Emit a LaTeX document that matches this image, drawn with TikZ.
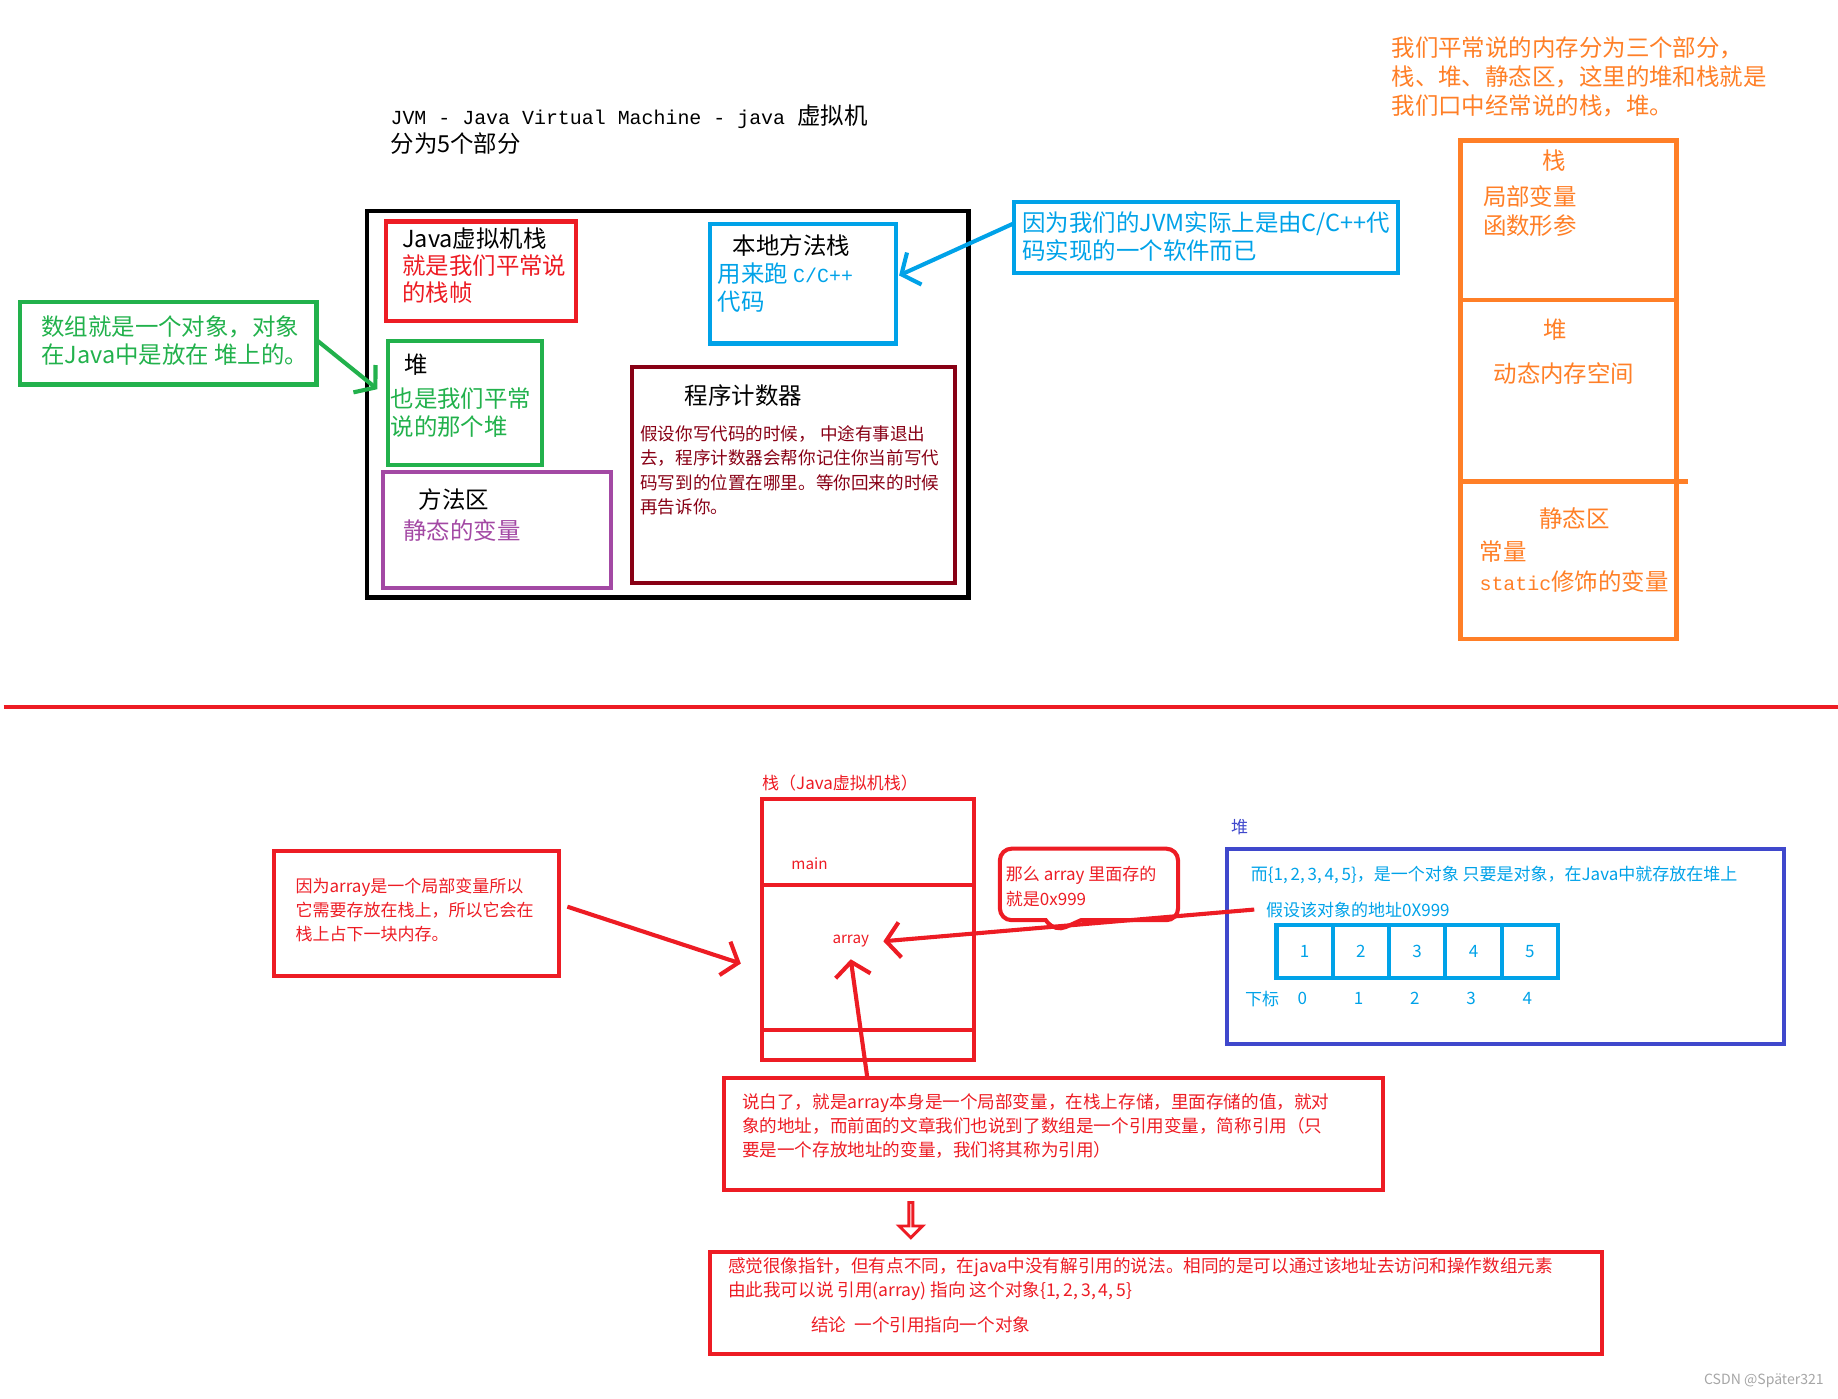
\documentclass[tikz,border=0pt]{standalone}
\usepackage{fontspec}
\setmainfont{Noto Sans CJK SC}
\newfontfamily\latmono{Liberation Mono}
\usetikzlibrary{arrows.meta,shapes.arrows,shapes.callouts}

\definecolor{jred}{HTML}{ED1C24}
\definecolor{jgreen}{HTML}{22B14C}
\definecolor{jblue}{HTML}{00A2E8}
\definecolor{jpurple}{HTML}{A349A4}
\definecolor{jdark}{HTML}{880015}
\definecolor{jorange}{HTML}{FF7F27}
\definecolor{jindigo}{HTML}{3F48CC}

\begin{document}
\begin{tikzpicture}[x=1pt, y=-1pt,
  frame/.style={draw, line width=3.5pt, anchor=north west, inner sep=0pt, outer sep=0pt},
  txt/.style={inner sep=0pt, anchor=north west, align=left},
  big/.style={font=\fontsize{20pt}{24pt}\selectfont},
  small/.style={font=\fontsize{14.5pt}{20.5pt}\selectfont},
  barb/.style={line width=3.5pt, -{Straight Barb[length=12pt, width=30pt]}}]
  \useasboundingbox (0,0) rectangle (1568,1193);

  % JVM 5 parts
  \node[txt, big] (title) at (333,89) {{\latmono\fontsize{17pt}{24pt}\selectfont JVM - Java Virtual Machine - java }虚拟机\\分为5个部分};
  \node[frame, line width=4pt, minimum width=513pt, minimum height=330pt] (jvm) at (313,180) {};

  \node[frame, draw=jred, minimum width=162pt, minimum height=85pt] (vmstack) at (329,189) {};
  \node[txt, big, font=\fontsize{20pt}{23pt}\selectfont, text=jred] (tvmstack) at (343,194) {\textcolor{black}{Java虚拟机栈}\\就是我们平常说\\的栈帧};

  \node[frame, draw=jblue, minimum width=158pt, minimum height=102pt] (native) at (606,191) {};
  \node[txt, big, text=jblue] (tnative) at (612,200) {\hspace*{13pt}\textcolor{black}{本地方法栈}\\用来跑 {\latmono\fontsize{17pt}{24pt}\selectfont C/C++}\\代码};

  \node[frame, draw=jgreen, minimum width=131pt, minimum height=106pt] (heap) at (331,291) {};
  \node[txt, big, text=jgreen] (theap) at (333,302) {\hspace*{12pt}\textcolor{black}{堆}\\[5pt]也是我们平常\\说的那个堆};

  \node[frame, draw=jpurple, minimum width=194pt, minimum height=99pt] (method) at (327,403) {};
  \node[txt, big, font=\fontsize{20pt}{26pt}\selectfont, text=jpurple] (tmethod) at (344,417) {\hspace*{13pt}\textcolor{black}{方法区}\\静态的变量};

  \node[frame, draw=jdark, minimum width=276pt, minimum height=184pt] (pc) at (539,313) {};
  \node[txt, big] (tpc) at (584,328) {程序计数器};
  \node[txt, font=\fontsize{15pt}{20.7pt}\selectfont, text=jdark] (pcnote) at (546,363) {假设你写代码的时候， 中途有事退出\\去，程序计数器会帮你记住你当前写代\\码写到的位置在哪里。等你回来的时候\\再告诉你。};

  % notes outside
  \node[frame, draw=jgreen, minimum width=253pt, minimum height=70pt] (arrnote) at (17,258) {};
  \node[txt, big, text=jgreen] (tarrnote) at (35,269) {数组就是一个对象，对象\\在Java中是放在 堆上的。};
  \draw[barb, jgreen] ([yshift=3pt]arrnote.east) -- ([xshift=-9pt, yshift=12pt]heap.west);

  \node[frame, draw=jblue, minimum width=328pt, minimum height=61pt] (cnote) at (865,172) {};
  \node[txt, big, text=jblue] (tcnote) at (872,180) {因为我们的JVM实际上是由C/C++代\\码实现的一个软件而已};
  \draw[barb, jblue] ([yshift=12pt]cnote.west) -- ([xshift=3pt, yshift=7pt]native.east);

  % stack / heap / static
  \node[txt, big, font=\fontsize{20pt}{25pt}\selectfont, text=jorange] (memnote) at (1187,31) {我们平常说的内存分为三个部分，\\栈、堆、静态区，这里的堆和栈就是\\我们口中经常说的栈，堆。};
  \node[frame, draw=jorange, line width=4pt, minimum width=184pt, minimum height=136pt] (ostack) at (1246,120) {};
  \node[frame, draw=jorange, line width=4pt, minimum width=184pt, minimum height=155pt] (oheap) at (1246,256) {};
  \node[frame, draw=jorange, line width=4pt, minimum width=184pt, minimum height=134pt] (ostatic) at (1246,411) {};
  \draw[jorange, line width=4pt] (oheap.south east) -- ++(10,0);
  \node[txt, big, anchor=north, text=jorange] (tostack) at (1326,128) {栈};
  \node[txt, big, font=\fontsize{20pt}{25pt}\selectfont, text=jorange] (tostack2) at (1265,158) {局部变量\\函数形参};
  \node[txt, big, anchor=north, text=jorange] (toheap) at (1327,272) {堆};
  \node[txt, big, text=jorange] (toheap2) at (1274,309) {动态内存空间};
  \node[txt, big, text=jorange] (tostatic) at (1313,433) {静态区};
  \node[txt, big, font=\fontsize{20pt}{26pt}\selectfont, text=jorange] (tostatic2) at (1262,461) {常量\\{\latmono\fontsize{17pt}{26pt}\selectfont static}修饰的变量};

  \draw[jred, line width=3pt] (3,603) -- (1568,603);

  % array example
  \node[txt, small, text=jred] (tstack) at (650,661) {栈（Java虚拟机栈）};
  \node[frame, draw=jred, minimum width=181pt, minimum height=73pt] (smain) at (650,682) {};
  \node[frame, draw=jred, minimum width=181pt, minimum height=124pt] (sarr) at (650,755) {};
  \node[frame, draw=jred, minimum width=181pt, minimum height=25pt] (sbot) at (650,879) {};
  \node[txt, anchor=west, font=\fontsize{13pt}{15pt}\selectfont, text=jred] (tmain) at (675,737) {main};
  \node[txt, anchor=west, font=\fontsize{13pt}{15pt}\selectfont, text=jred] (tarray) at (710,803) {array};

  \node[frame, draw=jred, minimum width=243pt, minimum height=107pt] (localnote) at (234,726) {};
  \node[txt, small, text=jred] (tlocalnote) at (252,749) {因为array是一个局部变量所以\\它需要存放在栈上，所以它会在\\栈上占下一块内存。};
  \draw[barb, jred] ([xshift=7pt, yshift=6pt]localnote.east) -- ([xshift=-18pt, yshift=-5pt]sarr.west);

  \node[draw=jred, line width=3.5pt, rectangle callout, rounded corners=10pt, anchor=north west, inner sep=0pt, outer sep=0pt,
    minimum width=152pt, minimum height=61pt, callout absolute pointer={(900,795)}, callout pointer width=30pt] (refnote) at (853,724) {};
  \node[txt, small, font=\fontsize{14.5pt}{21pt}\selectfont, text=jred] (trefnote) at (858,739) {那么 array 里面存的\\就是0x999};

  \node[txt, small, text=jindigo] (theaplbl) at (1050,699) {堆};
  \node[frame, draw=jindigo, minimum width=475pt, minimum height=167pt] (heapbox) at (1047,724) {};
  \node[txt, small, text=jblue] (tobj) at (1067,739) {而\{1,\,2,\,3,\,4,\,5\}，是一个对象 只要是对象，在Java中就存放在堆上};
  \node[txt, small, text=jblue] (taddr) at (1080,769) {假设该对象的地址0X999};
  \foreach \v [count=\i from 0] in {1,2,3,4,5} {
    \node[frame, draw=jblue, minimum width=48pt, minimum height=45pt] (c\i) at (1089+48*\i,789) {};
    \node[font=\fontsize{14.5pt}{16pt}\selectfont, text=jblue] (v\i) at (c\i.center) {\v};
    \node[font=\fontsize{14.5pt}{16pt}\selectfont, text=jblue] (idx\i) at (1111+48*\i,852) {\i};
  }
  \node[txt, small, anchor=west, text=jblue] (tidx) at (1062,852) {下标};
  \draw[barb, jred] ([xshift=-10pt]taddr.west) -- ([xshift=12pt]tarray.east);

  \node[frame, draw=jred, minimum width=562pt, minimum height=95pt] (sumbox) at (618,920) {};
  \node[txt, font=\fontsize{15pt}{20.5pt}\selectfont, text=jred] (tsum) at (633,933) {说白了，就是array本身是一个局部变量，在栈上存储，里面存储的值，就对\\象的地址，而前面的文章我们也说到了数组是一个引用变量，简称引用（只\\要是一个存放地址的变量，我们将其称为引用）};
  \draw[barb, jred] ([xshift=122pt]sumbox.north west) -- ([yshift=-10pt]tarray.south);

  \node[single arrow, draw=jred, line width=2.5pt, shape border rotate=270, inner sep=0pt,
    minimum height=30pt, minimum width=20pt, single arrow head extend=6pt] (down) at (777,1040) {};

  \node[frame, draw=jred, minimum width=761pt, minimum height=87pt] (endbox) at (606,1068) {};
  \node[txt, font=\fontsize{15pt}{20.5pt}\selectfont, text=jred] (tend) at (621,1073) {感觉很像指针，但有点不同，在java中没有解引用的说法。相同的是可以通过该地址去访问和操作数组元素\\由此我可以说 引用(array) 指向 这个对象\{1,\,2,\,3,\,4,\,5\}};
  \node[txt, font=\fontsize{15pt}{20.5pt}\selectfont, text=jred] (tconcl) at (692,1123) {结论\ \ 一个引用指向一个对象};

  \node[inner sep=0pt, anchor=east, font=\fontsize{12pt}{14pt}\selectfont, text=gray!70] (mark) at (1556,1178) {CSDN @Später321};
\end{tikzpicture}
\end{document}
